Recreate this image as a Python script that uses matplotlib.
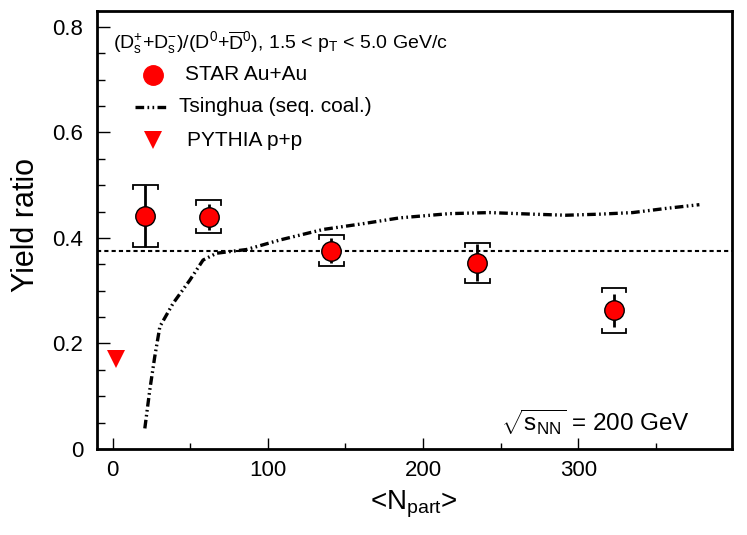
import matplotlib
matplotlib.use('Agg')
import matplotlib.pyplot as plt
from matplotlib.ticker import MultipleLocator

plt.rcParams['font.family'] = ['Liberation Sans', 'DejaVu Sans']
plt.rcParams['mathtext.fontset'] = 'custom'
plt.rcParams['mathtext.rm'] = 'Liberation Sans'
plt.rcParams['mathtext.it'] = 'Liberation Sans:italic'
plt.rcParams['mathtext.bf'] = 'Liberation Sans:bold'

# STAR Au+Au Ds/D0 ratio vs Npart
npart = [21, 62, 141, 235, 323]
ratio = [0.441, 0.440, 0.376, 0.353, 0.263]
stat_err = [0.059, 0.025, 0.024, 0.035, 0.031]
sys_err = [0.059, 0.031, 0.030, 0.038, 0.043]

# PYTHIA p+p
pythia_npart = [2]
pythia_ratio = [0.170]

# Tsinghua sequential coalescence curve
tsing_npart = [20.8, 24.0, 27.2, 30.5, 39.0, 49.8, 58.3, 67.0, 86.3, 107.7,
               135.6, 161.4, 185.0, 217.0, 243.0, 270.6, 292.0, 313.8, 335.0,
               356.7, 378.0]
tsing_ratio = [0.039, 0.112, 0.175, 0.232, 0.276, 0.320, 0.358, 0.371, 0.378,
               0.396, 0.416, 0.427, 0.438, 0.446, 0.448, 0.445, 0.443, 0.445,
               0.448, 0.456, 0.463]

pp_level = 0.376

fig = plt.figure(figsize=(7.47, 5.35), dpi=100)
ax = fig.add_axes([97 / 747, 1 - 449 / 535, 635 / 747, 438 / 535])
ax.set_xlim(-10, 399)
ax.set_ylim(0, 0.83)

ax.axhline(pp_level, color='black', lw=1.5, dashes=(2.0, 1.5))

tdash = (2.6, 1.0, 0.5, 1.0, 0.5, 1.0)
ax.plot(tsing_npart, tsing_ratio, color='black', lw=2.4, dashes=tdash)

# systematic brackets
hw, lip = 8, 0.008
for x, y, s in zip(npart, ratio, sys_err):
    for sgn in (1, -1):
        yy = y + sgn * s
        ax.plot([x - hw, x - hw, x + hw, x + hw],
                [yy - sgn * lip, yy, yy, yy - sgn * lip],
                color='black', lw=1.3, solid_joinstyle='miter')

ax.errorbar(npart, ratio, yerr=stat_err, fmt='o', color='black', ms=14,
            mfc='red', mec='black', mew=1.0, elinewidth=2.0, capsize=0, zorder=5)

ax.plot(pythia_npart, pythia_ratio, 'v', color='red', ms=13, mew=0, zorder=5)

for sp in ax.spines.values():
    sp.set_linewidth(2.0)

ax.xaxis.set_major_locator(MultipleLocator(100))
ax.xaxis.set_minor_locator(MultipleLocator(50))
ax.yaxis.set_major_locator(MultipleLocator(0.2))
ax.yaxis.set_minor_locator(MultipleLocator(0.05))
ax.tick_params(which='both', direction='in', top=False, right=False, width=1.0)
ax.tick_params(axis='x', which='major', length=8, pad=8, labelsize=16)
ax.tick_params(axis='x', which='minor', length=4)
ax.tick_params(axis='y', which='major', length=9, pad=10, labelsize=16)
ax.tick_params(axis='y', which='minor', length=6)
ax.set_yticks([0, 0.2, 0.4, 0.6, 0.8])
ax.set_yticklabels(['0', '0.2', '0.4', '0.6', '0.8'])

fig.text(26 / 747, 1 - 225 / 535, 'Yield ratio', rotation=90, ha='center',
         va='center', fontsize=22)
fig.text(414 / 747, 1 - 510 / 535, r'<N$_\mathrm{part}$>', ha='center',
         va='baseline', fontsize=20)

ax.text(0.025, 0.929,
        r'$(\mathrm{D}_\mathrm{s}^{+}{+}\mathrm{D}_\mathrm{s}^{-})/(\mathrm{D}^{0}{+}\overline{\mathrm{D}}^{0})$, 1.5 < p$_\mathrm{T}$ < 5.0 GeV/c',
        transform=ax.transAxes, ha='left', va='center', fontsize=14)

# legend
ax.plot([0.0877], [0.854], 'o', color='red', ms=14, transform=ax.transAxes, clip_on=False)
ax.text(0.1386, 0.854, 'STAR Au+Au', transform=ax.transAxes, va='center', fontsize=15)
ax.plot([0.0598, 0.110], [0.781, 0.781], color='black', lw=2.4, dashes=tdash,
        transform=ax.transAxes)
ax.text(0.129, 0.781, 'Tsinghua (seq. coal.)', transform=ax.transAxes, va='center', fontsize=15)
ax.plot([0.0882], [0.705], 'v', color='red', ms=13, mew=0, transform=ax.transAxes)
ax.text(0.1417, 0.705, 'PYTHIA p+p', transform=ax.transAxes, va='center', fontsize=15)

ax.text(0.637, 0.062, r'$\sqrt{\mathrm{s}_\mathrm{NN}}$ = 200 GeV', transform=ax.transAxes,
        ha='left', va='center', fontsize=17.5)

fig.savefig('out.png', dpi=100)
